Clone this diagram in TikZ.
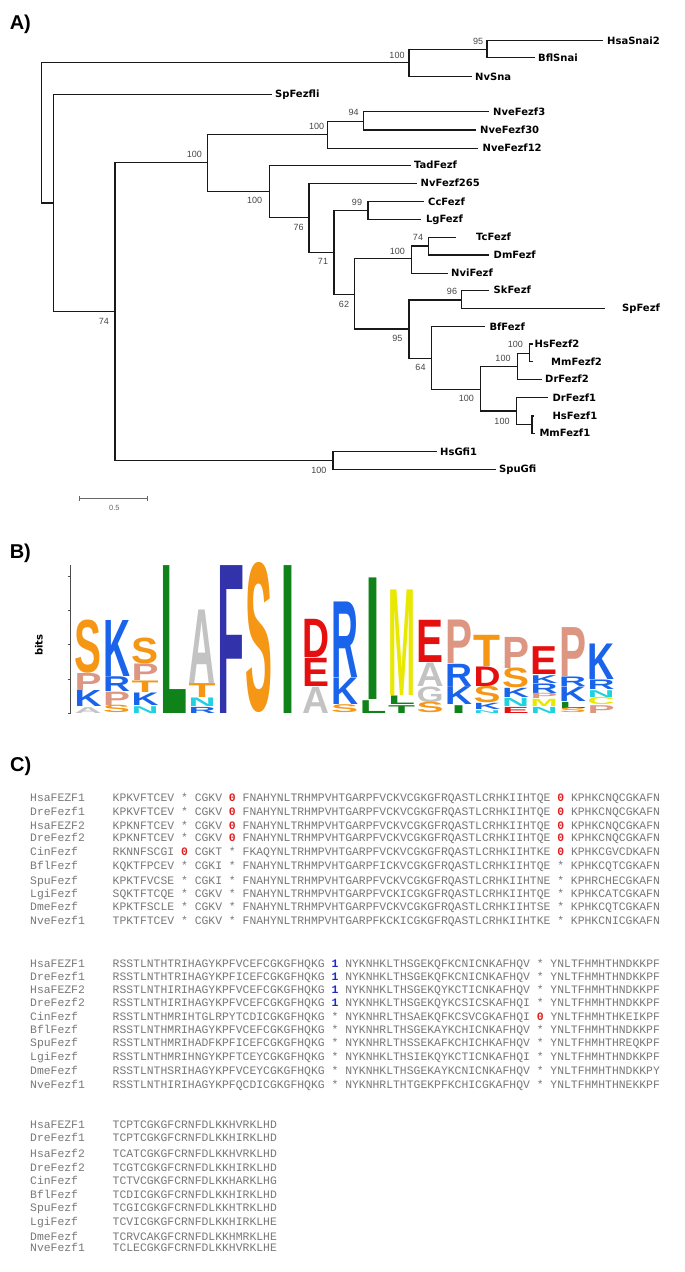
\documentclass[tikz,border=0pt]{standalone}
\usepackage{fontspec}
\usepackage{graphicx}
\setmainfont{Liberation Sans}
\newfontfamily\leaffont{DejaVu Sans}
\newfontfamily\seqfont{Liberation Mono}
\newfontfamily\logofont{Liberation Sans}

\definecolor{bootgray}{RGB}{70,70,70}
\definecolor{seqgray}{RGB}{120,120,120}
\definecolor{zeroRed}{RGB}{225,30,30}
\definecolor{oneBlue}{RGB}{30,40,200}
\definecolor{logoOrange}{RGB}{245,150,20}
\definecolor{logoBlue}{RGB}{25,100,235}
\definecolor{logoSalmon}{RGB}{220,150,130}
\definecolor{logoGray}{RGB}{195,195,195}
\definecolor{logoGreen}{RGB}{15,130,25}
\definecolor{logoNavy}{RGB}{50,50,170}
\definecolor{logoRed}{RGB}{230,15,15}
\definecolor{logoYellow}{RGB}{232,232,0}
\definecolor{logoCyan}{RGB}{30,210,225}

\newcommand\zeromark{\textcolor{zeroRed}{\bfseries 0}}
\newcommand\onemark{\textcolor{oneBlue}{\bfseries 1}}

\begin{document}
\begin{tikzpicture}[
    x=1pt, y=-1pt,
    branch/.style={draw=black!90, line width=1.3pt},
    leaf/.style={anchor=west, font=\leaffont\bfseries\fontsize{10}{12}\selectfont, inner ysep=0pt, text height=7.3pt, text depth=0pt},
    boot/.style={font=\fontsize{9}{10}\selectfont, text=bootgray, inner sep=0pt, text height=6.4pt, text depth=0pt},
    panel/.style={anchor=base west, font=\bfseries\fontsize{20}{24}\selectfont, inner sep=0pt},
    seqtxt/.style={anchor=base west, font=\seqfont\fontsize{11.4}{13}\selectfont, text=seqgray, inner sep=0pt},
    logoletter/.style={anchor=south west, inner sep=0pt, outer sep=0pt},
    axisline/.style={draw=black!70, line width=0.6pt}
]
\fill[white] (0,0) rectangle (685,1272);
\useasboundingbox (0,0) rectangle (685,1272);

% panel labels
\node[panel] (labA) at (9.6,29.5) {A)};
\node[panel] (labB) at (9.6,558) {B)};
\node[panel] (labC) at (10,771.5) {C)};

% ---- A) tree: inner nodes
\coordinate (root) at (41.7,132.9);
\coordinate (nSnai) at (409,62.7);
\coordinate (nSnaiB) at (487,49.3);
\coordinate (nOut) at (53.3,203);
\coordinate (nIn) at (115,311.7);
\coordinate (nGfi) at (333,460.7);
\coordinate (nFezf) at (207.7,162.7);
\coordinate (nNve) at (327.5,134.3);
\coordinate (nNve3) at (363.8,121.7);
\coordinate (nTad) at (269.4,191.7);
\coordinate (nNv265) at (309,217.7);
\coordinate (nBil) at (334,252.3);
\coordinate (nLop) at (368,210.3);
\coordinate (nPro) at (354.6,294.3);
\coordinate (nIns) at (411.8,258.3);
\coordinate (nIns2) at (428.8,246);
\coordinate (nDeut) at (409,329);
\coordinate (nAmbul) at (461.6,300);
\coordinate (nChor) at (431.4,358.3);
\coordinate (nVert) at (480.3,389.3);
\coordinate (nVF2) at (517.5,366.7);
\coordinate (nMam2) at (529.7,353.3);
\coordinate (nVF1) at (516.6,411);
\coordinate (nMam1) at (532,424.3);

% leaves: name/end x/y/gap
\foreach \nm/\x/\y/\g in {HsaSnai2/602.6/40.7/4.4, BflSnai/535/57.7/3, NvSna/471.6/76.7/3.4,
    SpFezfli/271.6/94.3/3.4, NveFezf3/489/111.7/4, NveFezf30/476/130/4, NveFezf12/478/148.3/4.5,
    TadFezf/410.5/165.3/3.5, NvFezf265/417/183.3/3.5, CcFezf/423.6/201.7/4.4, LgFezf/421.4/219.3/4.4,
    TcFezf/456.3/237.3/19.7, DmFezf/489/255/4.5, NviFezf/447.6/273.3/3.4, SkFezf/489/290.3/4.5,
    SpFezf/604.8/308.3/17.2, BfFezf/485/326.7/4.3, HsFezf2/532.8/344/1.7, MmFezf2/532.8/361.7/18.2,
    DrFezf2/541.5/379.3/3.5, DrFezf1/548/397.7/4.4, HsFezf1/533.6/416/18.8, MmFezf1/535/433.3/4.3,
    HsGfi1/436.7/451.7/3.3, SpuGfi/495.6/469.3/3.4}
  \node[leaf, inner xsep=\g pt] (\nm) at (\x,\y) {\nm};

% branches
\foreach \p/\c in {root/nSnai, root/nOut, nSnai/nSnaiB, nSnai/NvSna, nSnaiB/HsaSnai2, nSnaiB/BflSnai,
    nOut/SpFezfli, nOut/nIn, nIn/nFezf, nIn/nGfi, nGfi/HsGfi1, nGfi/SpuGfi,
    nFezf/nNve, nFezf/nTad, nNve/nNve3, nNve/NveFezf12, nNve3/NveFezf3, nNve3/NveFezf30,
    nTad/TadFezf, nTad/nNv265, nNv265/NvFezf265, nNv265/nBil, nBil/nLop, nBil/nPro,
    nLop/CcFezf, nLop/LgFezf, nPro/nIns, nPro/nDeut, nIns/nIns2, nIns/NviFezf,
    nIns2/TcFezf, nIns2/DmFezf, nDeut/nAmbul, nDeut/nChor, nAmbul/SkFezf, nAmbul/SpFezf,
    nChor/BfFezf, nChor/nVert, nVert/nVF2, nVert/nVF1, nVF2/nMam2, nVF2/DrFezf2,
    nMam2/HsFezf2, nMam2/MmFezf2, nVF1/DrFezf1, nVF1/nMam1, nMam1/HsFezf1, nMam1/MmFezf1}
  \draw[branch] (\p) |- (\c);

% bootstrap values
\foreach \x/\y/\v [count=\n] in {397/55/100, 478/41/95, 316.6/126/100, 353.7/112.7/94, 194.3/154.3/100,
    254.6/200.7/100, 298.7/227.3/76, 323/261.7/71, 357/202.3/99, 344/304/62, 397.4/251/100,
    418/237.3/74, 397.4/338.3/95, 452/291/96, 420.5/367.3/64, 466.4/398.3/100, 503/358.3/100,
    515.3/344/100, 502/421/100, 318.8/470/100, 104/321.7/74}
  \node[boot] (boot\n) at (\x,\y) {\v};

% scale bar
\coordinate (sbL) at (79.5,498.3);
\coordinate (sbR) at (147.6,498.3);
\draw[draw=black!60, line width=0.9pt] (sbL) -- (sbR);
\draw[draw=black!60, line width=0.7pt] ([yshift=2.5pt]sbL) -- ([yshift=-2.5pt]sbL);
\draw[draw=black!60, line width=0.7pt] ([yshift=2.5pt]sbR) -- ([yshift=-2.5pt]sbR);
\node[boot, font=\fontsize{7.5}{9}\selectfont, text=black!60] (sbLab) at (114.4,507.3) {0.5};

% ---- B) logo
\draw[axisline] (70.7,565) -- (70.7,713.3);
\foreach \ty in {576.1, 610.4, 644.7, 679, 713.3}
  \draw[axisline] (70.7,\ty) -- (67.5,\ty);
\node[rotate=90, font=\leaffont\bfseries\fontsize{10}{12}\selectfont, inner sep=0pt] (bits) at (39,645) {bits};

\foreach \col/\ltop/\lbot/\clr/\ltr/\lw [count=\n] in {
    1/620/673/logoOrange/S/27, 1/673/690.5/logoSalmon/P/27, 1/690.5/707/logoBlue/K/27, 1/707/713.3/logoGray/A/27,
    2/620/676.5/logoBlue/K/27, 2/676.5/691.7/logoBlue/R/27, 2/691.7/705.5/logoSalmon/P/27, 2/705.5/713.3/logoOrange/S/27,
    3/638/664/logoOrange/S/27, 3/664/681/logoSalmon/P/27, 3/681/693/logoOrange/T/27, 3/693/706/logoBlue/K/27, 3/706/713.3/logoCyan/N/27,
    4/565/713.3/logoGreen/L/27,
    5/609.3/683.3/logoGray/A/27, 5/683.3/697.7/logoOrange/T/27, 5/697.7/706.7/logoCyan/N/27, 5/706.7/713.3/logoBlue/R/27,
    6/565/713.3/logoNavy/F/27,
    7/565/713.3/logoOrange/S/27,
    8/565/713.3/logoGreen/I/15,
    9/619.3/658/logoRed/D/27, 9/658/686.7/logoRed/E/27, 9/686.7/713.3/logoGray/A/27,
    10/602/678/logoBlue/R/27, 10/678/705/logoBlue/K/27, 10/705/713.3/logoOrange/S/27,
    11/578/700/logoGreen/I/15, 11/700/713.3/logoGreen/L/27,
    12/590/696/logoYellow/M/27, 12/696/705/logoGreen/L/27, 12/705/713.3/logoGreen/T/27,
    13/620/662.7/logoRed/E/27, 13/662.7/686.7/logoGray/A/27, 13/686.7/702.7/logoGray/G/27, 13/702.7/713.3/logoOrange/S/27,
    14/620/664/logoSalmon/P/27, 14/664/686.7/logoBlue/R/27, 14/686.7/705/logoBlue/K/27, 14/705/713.3/logoGreen/I/15,
    15/635/666.7/logoOrange/T/27, 15/666.7/686.7/logoRed/D/27, 15/686.7/703.3/logoOrange/S/27, 15/703.3/710/logoBlue/K/27, 15/710/713.3/logoCyan/N/27,
    16/636.7/668.3/logoSalmon/P/27, 16/668.3/688.3/logoOrange/S/27, 16/688.3/698/logoBlue/K/27, 16/698/706.7/logoCyan/N/27, 16/706.7/713.3/logoRed/E/27,
    17/646.7/675/logoRed/E/27, 17/675/683.3/logoBlue/K/27, 17/683.3/693.3/logoBlue/R/27, 17/693.3/699/logoSalmon/P/27, 17/699/706.7/logoYellow/M/27, 17/706.7/713.3/logoCyan/N/27,
    18/627.3/676.7/logoSalmon/P/27, 18/676.7/686.7/logoBlue/R/27, 18/686.7/701.7/logoBlue/K/27, 18/701.7/708.3/logoGreen/L/27, 18/708.3/713.3/logoOrange/S/27,
    19/644/680/logoBlue/K/27, 19/680/690/logoBlue/R/27, 19/690/697.3/logoCyan/N/27, 19/697.3/705/logoYellow/C/27, 19/705/713.3/logoSalmon/P/27}
{
  \pgfmathsetmacro\lx{74.5+(\col-1)*28.5+(27-\lw)/2}
  \pgfmathsetmacro\lh{\lbot-\ltop-0.5}
  \node[logoletter] (logo\n) at (\lx,\lbot-0.25) {\resizebox{\lw pt}{\lh pt}{\logofont\bfseries\textcolor{\clr}{\ltr}}};
}

% ---- C) alignment
\foreach \nm/\sq/\y [count=\r] in {
    HsaFEZF1/KPKVFTCEV * CGKV \zeromark{} FNAHYNLTRHMPVHTGARPFVCKVCGKGFRQASTLCRHKIIHTQE \zeromark{} KPHKCNQCGKAFN/797.7,
    DreFezf1/KPKVFTCEV * CGKV \zeromark{} FNAHYNLTRHMPVHTGARPFVCKVCGKGFRQASTLCRHKIIHTQE \zeromark{} KPHKCNQCGKAFN/811.7,
    HsaFEZF2/KPKNFTCEV * CGKV \zeromark{} FNAHYNLTRHMPVHTGARPFVCKVCGKGFRQASTLCRHKIIHTQE \zeromark{} KPHKCNQCGKAFN/825.7,
    DreFezf2/KPKNFTCEV * CGKV \zeromark{} FNAHYNLTRHMPVHTGARPFVCKVCGKGFRQASTLCRHKIIHTQE \zeromark{} KPHKCNQCGKAFN/838.3,
    CinFezf/RKNNFSCGI \zeromark{} CGKT * FKAQYNLTRHMPVHTGARPFVCKVCGKGFRQASTLCRHKIIHTKE \zeromark{} KPHKCGVCDKAFN/852.3,
    BflFezf/KQKTFPCEV * CGKI * FNAHYNLTRHMPVHTGARPFICKVCGKGFRQASTLCRHKIIHTQE * KPHKCQTCGKAFN/866,
    SpuFezf/KPKTFVCSE * CGKI * FNAHYNLTRHMPVHTGARPFVCKVCGKGFRQASTLCRHKIIHTNE * KPHRCHECGKAFN/880.7,
    LgiFezf/SQKTFTCQE * CGKV * FNAHYNLTRHMPVHTGARPFVCKICGKGFRQASTLCRHKIIHTQE * KPHKCATCGKAFN/894.3,
    DmeFezf/KPKTFSCLE * CGKV * FNAHYNLTRHMPVHTGARPFVCKVCGKGFRQASTLCRHKIIHTSE * KPHKCQTCGKAFN/906.7,
    NveFezf1/TPKTFTCEV * CGKV * FNAHYNLTRHMPVHTGARPFKCKICGKGFRQASTLCRHKIIHTKE * KPHKCNICGKAFN/921}
{
  \node[seqtxt] (alnAname\r) at (30,\y+3.3) {\nm};
  \node[seqtxt] (alnAseq\r) at (112.5,\y+3.3) {\sq};
}

\foreach \nm/\sq/\y [count=\r] in {
    HsaFEZF1/RSSTLNTHTRIHAGYKPFVCEFCGKGFHQKG \onemark{} NYKNHKLTHSGEKQFKCNICNKAFHQV * YNLTFHMHTHNDKKPF/964,
    DreFezf1/RSSTLNTHTRIHAGYKPFICEFCGKGFHQKG \onemark{} NYKNHKLTHSGEKQFKCNICNKAFHQV * YNLTFHMHTHNDKKPF/977.3,
    HsaFEZF2/RSSTLNTHIRIHAGYKPFVCEFCGKGFHQKG \onemark{} NYKNHKLTHSGEKQYKCTICNKAFHQV * YNLTFHMHTHNDKKPF/990,
    DreFezf2/RSSTLNTHIRIHAGYKPFVCEFCGKGFHQKG \onemark{} NYKNHKLTHSGEKQYKCSICSKAFHQI * YNLTFHMHTHNDKKPF/1003.3,
    CinFezf/RSSTLNTHMRIHTGLRPYTCDICGKGFHQKG * NYKNHRLTHSAEKQFKCSVCGKAFHQI \zeromark{} YNLTFHMHTHKEIKPF/1016.7,
    BflFezf/RSSTLNTHMRIHAGYKPFVCEFCGKGFHQKG * NYKNHRLTHSGEKAYKCHICNKAFHQV * YNLTFHMHTHNDKKPF/1030,
    SpuFezf/RSSTLNTHMRIHADFKPFICEFCGKGFHQKG * NYKNHRLTHSSEKAFKCHICHKAFHQV * YNLTFHMHTHREQKPF/1043.3,
    LgiFezf/RSSTLNTHMRIHNGYKPFTCEYCGKGFHQKG * NYKNHKLTHSIEKQYKCTICNKAFHQI * YNLTFHMHTHNDKKPF/1056.7,
    DmeFezf/RSSTLNTHSRIHAGYKPFVCEYCGKGFHQKG * NYKNHKLTHSGEKAYKCNICNKAFHQV * YNLTFHMHTHNDKKPY/1070.7,
    NveFezf1/RSSTLNTHIRIHAGYKPFQCDICGKGFHQKG * NYKNHRLTHTGEKPFKCHICGKAFHQV * YNLTFHMHTHNEKKPF/1085}
{
  \node[seqtxt] (alnBname\r) at (30,\y+3.3) {\nm};
  \node[seqtxt] (alnBseq\r) at (112.5,\y+3.3) {\sq};
}

\foreach \nm/\sq/\y [count=\r] in {
    HsaFEZF1/TCPTCGKGFCRNFDLKKHVRKLHD/1125,
    DreFezf1/TCPTCGKGFCRNFDLKKHIRKLHD/1138.3,
    HsaFezf2/TCATCGKGFCRNFDLKKHVRKLHD/1154,
    DreFezf2/TCGTCGKGFCRNFDLKKHIRKLHD/1168.3,
    CinFezf/TCTVCGKGFCRNFDLKKHARKLHG/1180.7,
    BflFezf/TCDICGKGFCRNFDLKKHIRKLHD/1195,
    SpuFezf/TCGICGKGFCRNFDLKKHTRKLHD/1208.3,
    LgiFezf/TCVICGKGFCRNFDLKKHIRKLHE/1221.7,
    DmeFezf/TCRVCAKGFCRNFDLKKHMRKLHE/1236.7,
    NveFezf1/TCLECGKGFCRNFDLKKHVRKLHE/1248.3}
{
  \node[seqtxt] (alnCname\r) at (30,\y+3.3) {\nm};
  \node[seqtxt] (alnCseq\r) at (112.5,\y+3.3) {\sq};
}
\end{tikzpicture}
\end{document}
